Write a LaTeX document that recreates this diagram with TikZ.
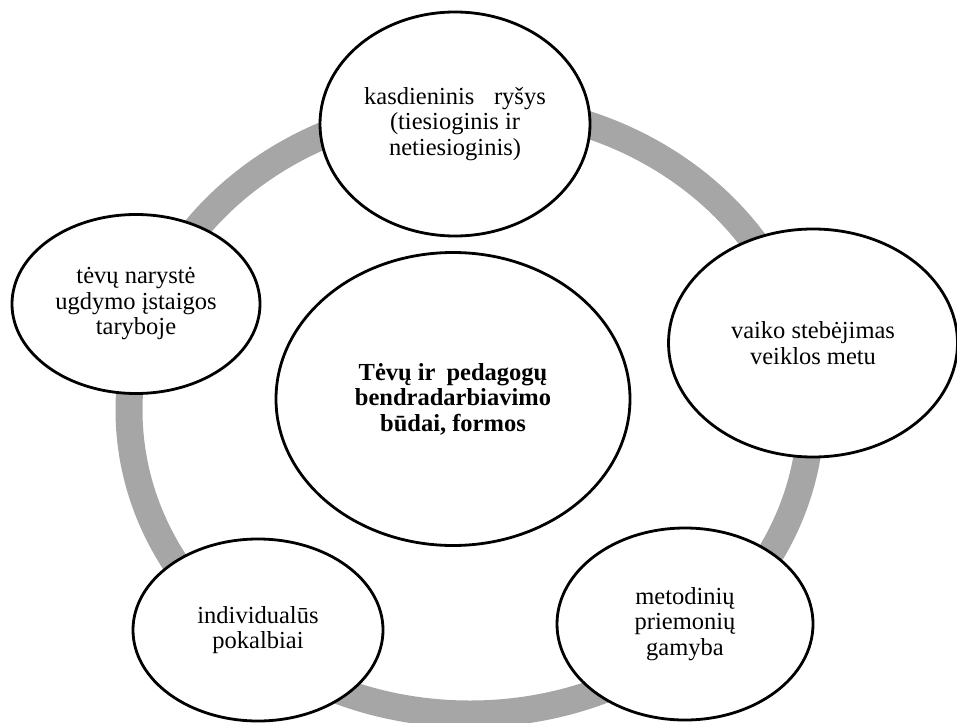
\documentclass[tikz,border=0pt]{standalone}
\usepackage{fontspec}
\setmainfont{Liberation Serif}
\usetikzlibrary{shapes.geometric}
\definecolor{ringgray}{RGB}{166,166,166}
\tikzset{
  bubble/.style={ellipse, draw=black, line width=2.8pt, fill=white,
    inner sep=0pt, align=center, font=\fontsize{24.5}{25.5}\selectfont},
  ringline/.style={draw=ringgray, line width=27pt},
}
\begin{document}
\begin{tikzpicture}[x=1pt,y=-1pt]
\useasboundingbox (0,0) rectangle (957,722);
% grey cycle behind the bubbles
\coordinate (ringc) at (470,410);
\draw[ringline] (ringc) ellipse [x radius=341pt, y radius=304pt];

% outer bubbles
\node[bubble, minimum width=270pt, minimum height=224pt] (daily) at (455,124)
  {kasdieninis\hspace{0.55em} ryšys\\(tiesioginis ir\\netiesioginis)};
\node[bubble, minimum width=289pt, minimum height=228pt] (observe) at (813,343)
  {vaiko stebėjimas\\veiklos metu};
\node[bubble, minimum width=256pt, minimum height=192pt] (tools) at (685,624)
  {metodinių\\priemonių\\gamyba};
\node[bubble, minimum width=250pt, minimum height=182pt] (talks) at (258,630)
  {individualūs\\pokalbiai};
\node[bubble, minimum width=248pt, minimum height=179pt] (council) at (136,304)
  {tėvų narystė\\ugdymo įstaigos\\taryboje};

% central bubble
\node[bubble, minimum width=354pt, minimum height=293pt,
  font=\fontsize{24.5}{25.5}\selectfont\bfseries] (core) at (453,399)
  {Tėvų ir\hspace{0.2em} pedagogų\\bendradarbiavimo\\būdai, formos};
\end{tikzpicture}
\end{document}
